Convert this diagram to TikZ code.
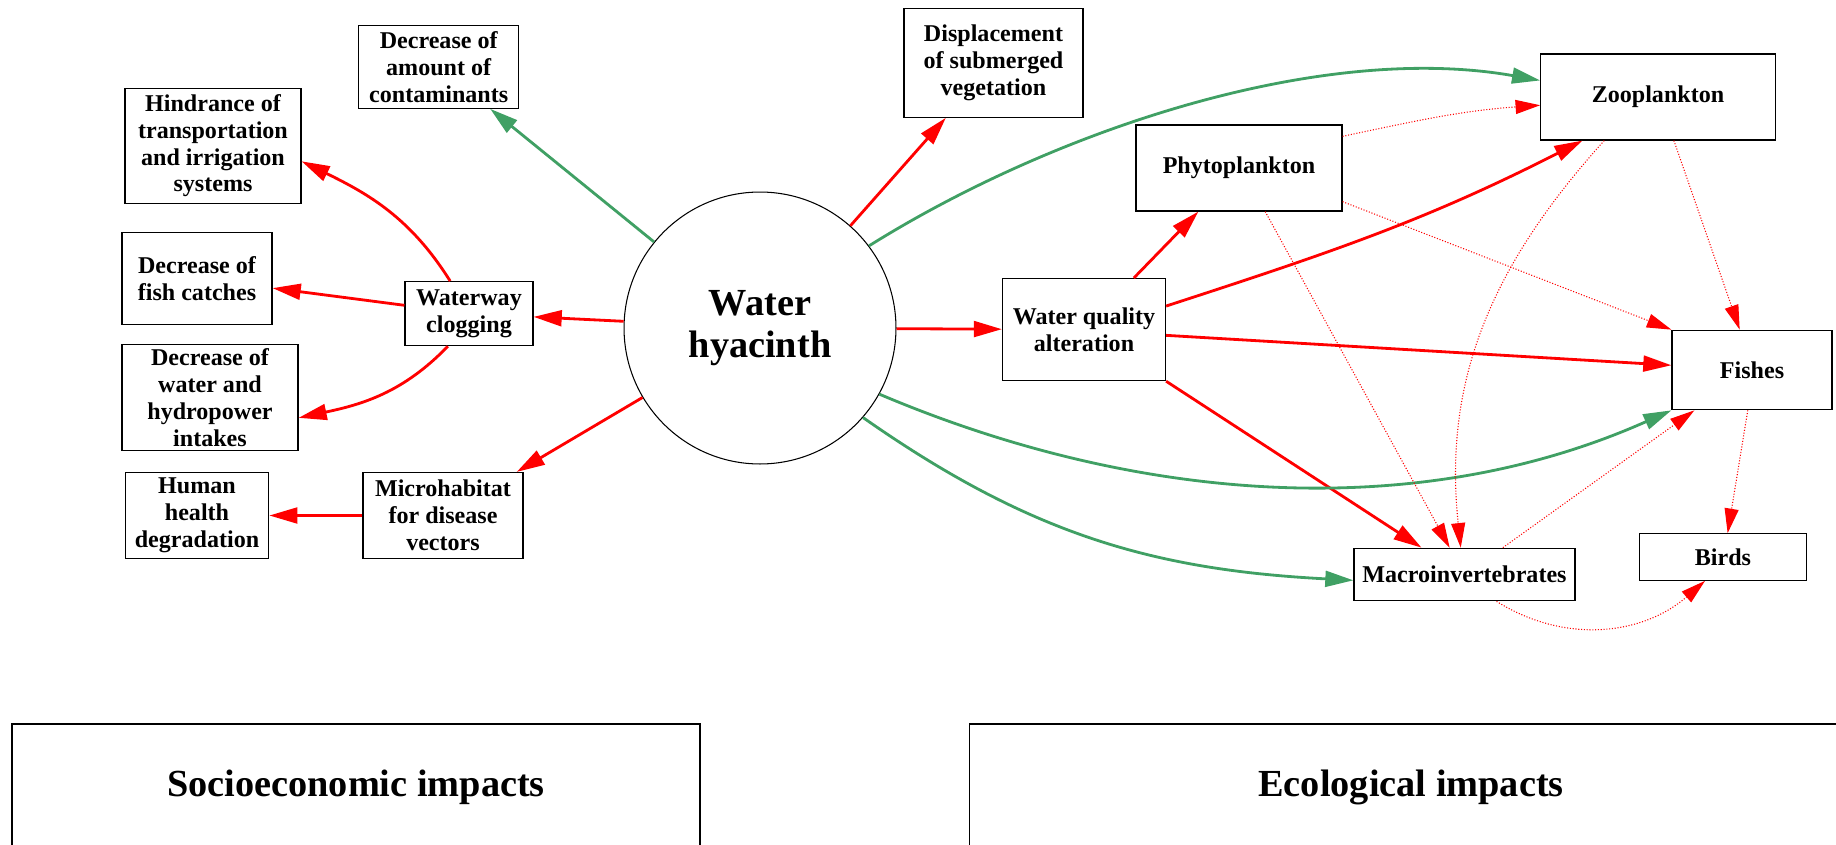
\documentclass[tikz,border=0pt]{standalone}
\usepackage{fontspec}
\setmainfont{Liberation Serif}
\usetikzlibrary{arrows.meta}
\definecolor{impactgreen}{RGB}{64,160,100}

\begin{document}
\begin{tikzpicture}[x=0.02cm, y=-0.02cm,
  box/.style={draw, line width=0.7pt, align=center, inner sep=0pt,
    font=\fontsize{13.7}{15.3}\selectfont\bfseries},
  title/.style={draw, line width=0.7pt, inner sep=0pt,
    font=\fontsize{21.8}{23.6}\selectfont\bfseries},
  harm/.style={red, line width=1.6pt, -{Triangle[length=16pt,width=9pt]}},
  gain/.style={impactgreen, line width=1.6pt, -{Triangle[length=16pt,width=9pt]}},
  link/.style={red, line width=0.6pt, densely dotted, -{Triangle[length=14pt,width=8pt]}}]
\useasboundingbox (0,0) rectangle (1836,845);

\node[circle, draw, line width=0.6pt, minimum size=5.44cm, align=center,
  font=\fontsize{21.8}{23.6}\selectfont\bfseries] (hy) at (760,328) {Water\\hyacinth};

\node[box, minimum width=3.2cm, minimum height=1.65cm] (amt) at (438.7,67) {Decrease of\\amount of\\contaminants};
\node[box, minimum width=3.52cm, minimum height=2.3cm] (hind) at (213,145.7) {Hindrance of\\transportation\\and irrigation\\systems};
\node[box, minimum width=3.0cm, minimum height=1.84cm] (fishc) at (197,278.3) {Decrease of\\fish catches};
\node[box, minimum width=3.52cm, minimum height=2.11cm] (intk) at (210,397.4) {Decrease of\\water and\\hydropower\\intakes};
\node[box, minimum width=2.87cm, minimum height=1.72cm] (hlth) at (197,515.5) {Human\\health\\degradation};
\node[box, minimum width=2.56cm, minimum height=1.28cm] (clog) at (469,313.7) {Waterway\\clogging};
\node[box, minimum width=3.2cm, minimum height=1.72cm] (vec) at (443,515.5) {Microhabitat\\for disease\\vectors};

\node[box, minimum width=3.58cm, minimum height=2.17cm] (disp) at (993.5,63) {Displacement\\of submerged\\vegetation};
\node[box, minimum width=3.26cm, minimum height=2.04cm] (qual) at (1084,329.6) {Water quality\\alteration};
\node[box, minimum width=4.12cm, minimum height=1.72cm] (phyto) at (1239,168) {Phytoplankton};
\node[box, minimum width=4.69cm, minimum height=1.72cm] (zoo) at (1658,97) {Zooplankton};
\node[box, minimum width=3.2cm, minimum height=1.59cm] (fish) at (1752,370) {Fishes};
\node[box, minimum width=4.42cm, minimum height=1.05cm] (macro) at (1464.5,574.5) {Macroinvertebrates};
\node[box, minimum width=3.33cm, minimum height=0.93cm] (birds) at (1723,557) {Birds};

\node[title, minimum width=13.76cm, minimum height=2.52cm] (socio) at (356,787) {Socioeconomic impacts};
\node[title, minimum width=17.66cm, minimum height=2.52cm] (eco) at (1411,787) {Ecological impacts};

\draw[harm] (hy) -- (clog);
\draw[harm] (clog.120) to[out=122,in=334] (hind.-10);
\draw[harm] (clog) -- (fishc);
\draw[harm] (clog.237) to[out=226,in=12] (intk.-13);
\draw[harm] (hy) -- (vec);
\draw[harm] (vec) -- (hlth);
\draw[gain] (hy) -- (amt);
\draw[harm] (hy) -- (disp.229);
\draw[harm] (hy) -- (qual);
\draw[harm] (qual.46) -- (phyto.227);
\draw[harm] (qual.16) to[out=18,in=207] (zoo.210);
\draw[harm] (qual.-4) -- (fish);
\draw[harm] (qual.south east) -- (macro.148);
\draw[gain] (hy.37) to[out=32,in=170,looseness=0.82] (zoo.172);
\draw[gain] (hy.-29) to[out=-23,in=204,looseness=0.9] (fish.south west);
\draw[gain] (hy.-41) to[out=-35,in=177] (macro.183);
\draw[link] (phyto.17) to[out=12,in=184] (zoo.184);
\draw[link] (phyto.-18) -- (fish.north west);
\draw[link] (phyto.-59) -- (macro.119);
\draw[link] (zoo.-70) -- (fish.107);
\draw[link] (zoo.219) to[out=228,in=96] (macro.98);
\draw[link] (macro.35) -- (fish.215);
\draw[link] (fish.-96) -- (birds.79);
\draw[link] (macro.-40) to[out=-32,in=221] (birds.233);
\end{tikzpicture}
\end{document}
